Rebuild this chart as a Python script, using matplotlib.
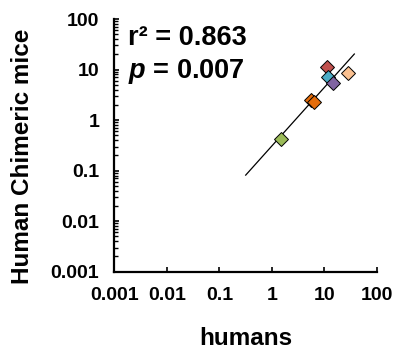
import numpy as np
import matplotlib
matplotlib.use('Agg')
import matplotlib.pyplot as plt
from matplotlib.ticker import LogLocator, FixedLocator, FixedFormatter, NullFormatter

plt.rcParams['font.family'] = ['Liberation Sans', 'DejaVu Sans']
plt.rcParams['font.weight'] = 'bold'
plt.rcParams['mathtext.fontset'] = 'custom'
plt.rcParams['mathtext.bfit'] = 'Liberation Sans:italic:bold'

# 数据：人体 vs 人源化嵌合小鼠
humans = [11.3, 11.5, 14.3, 27.7, 5.5, 6.3, 1.5]
mice = [11.1, 7.2, 5.3, 8.6, 2.5, 2.27, 0.42]
colors = ['#C0504D', '#4BACC6', '#8064A2', '#FAC090', '#E46C0A', '#E46C0A', '#9BBB59']

# 回归线端点
fit_x = [0.316, 37.0]
fit_y = [0.0815, 20.3]

tick_vals = [0.001, 0.01, 0.1, 1, 10, 100]
tick_labels = ['0.001', '0.01', '0.1', '1', '10', '100']

fig = plt.figure(figsize=(3.96, 3.49), dpi=100)
ax = fig.add_axes([0.289, 0.2215, 0.663, 0.724])

ax.plot(fit_x, fit_y, color='black', lw=0.9, zorder=2)
for x, y, c in zip(humans, mice, colors):
    ax.plot(x, y, marker='D', ms=6.8, mfc=c, mec='black', mew=0.7, ls='none', zorder=3)

ax.set_xscale('log')
ax.set_yscale('log')
ax.set_xlim(0.001, 100)
ax.set_ylim(0.001, 100)

for axis in (ax.xaxis, ax.yaxis):
    axis.set_major_locator(FixedLocator(tick_vals))
    axis.set_major_formatter(FixedFormatter(tick_labels))
    axis.set_minor_locator(LogLocator(base=10, subs=np.arange(2, 10)))
    axis.set_minor_formatter(NullFormatter())

ax.tick_params(which='major', direction='in', length=3.5, width=1.2, labelsize=14, pad=11)
ax.tick_params(which='minor', direction='in', length=2.8, width=1.0)

for s in ['top', 'right']:
    ax.spines[s].set_visible(False)
for s in ['left', 'bottom']:
    ax.spines[s].set_linewidth(1.6)

ax.set_xlabel('humans', fontsize=17.5, fontweight='bold')
ax.set_ylabel('Human Chimeric mice', fontsize=17.5, fontweight='bold')
ax.xaxis.set_label_coords(0.5, -0.218)
ax.yaxis.set_label_coords(-0.308, 0.456)

ax.text(0.051, 0.897, 'r\u00b2 = 0.863', transform=ax.transAxes, fontsize=19.5,
        fontweight='bold', va='baseline', ha='left')
ax.text(0.051, 0.767, r'$\mathbfit{p}$ = 0.007', transform=ax.transAxes, fontsize=19.5,
        fontweight='bold', va='baseline', ha='left')

fig.savefig('out.png', dpi=100)
